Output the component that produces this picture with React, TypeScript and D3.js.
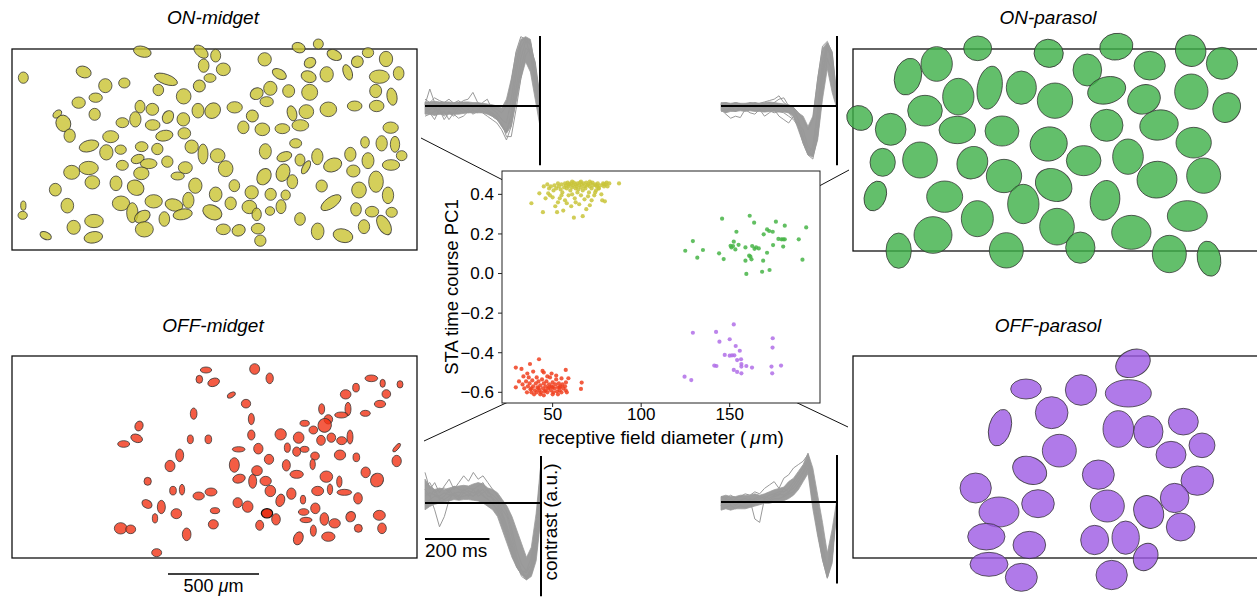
import * as d3 from "d3";
import React from "react";

const W = 1257;
const H = 602;
const FONT = "'Liberation Sans', Arial, Helvetica, sans-serif";

// ---------- scatter: receptive field diameter (um) vs STA time course PC1 ----------
type Pt = [number, number];

const onMidgetPts: Pt[] = [
  [38, 0.355], [42.5, 0.405], [44.5, 0.31], [47, 0.45], [47.5, 0.405], [48, 0.43], [49, 0.44], [50, 0.385],
  [50.5, 0.42], [51, 0.445], [52, 0.43], [52.5, 0.31], [53, 0.455], [53.5, 0.44], [54, 0.38], [54.5, 0.425],
  [55, 0.45], [55.5, 0.41], [56, 0.318], [56.5, 0.435], [57, 0.455], [57.5, 0.445], [58, 0.355], [58, 0.43],
  [58.5, 0.46], [59, 0.44], [59.5, 0.45], [60, 0.42], [60.5, 0.34], [60.5, 0.455], [61, 0.435], [61.5, 0.445],
  [62, 0.282], [62, 0.46], [62.5, 0.38], [63, 0.43], [63, 0.45], [63.5, 0.44], [64, 0.455], [64.5, 0.425],
  [65, 0.35], [65, 0.445], [65.5, 0.46], [66, 0.435], [66.5, 0.45], [67, 0.29], [67, 0.42], [67.5, 0.455],
  [68, 0.44], [68.5, 0.43], [69, 0.325], [69, 0.46], [69.5, 0.445], [70, 0.45], [70.5, 0.41], [71, 0.345],
  [71, 0.44], [71.5, 0.455], [72, 0.43], [72.5, 0.46], [73, 0.445], [73.5, 0.395], [74, 0.45], [74.5, 0.42],
  [75, 0.44], [75.5, 0.455], [76, 0.43], [77, 0.445], [77.5, 0.4], [78, 0.37], [78.5, 0.455], [79, 0.44],
  [79.5, 0.365], [80, 0.45], [80.5, 0.46], [81, 0.44], [82, 0.455], [87.5, 0.455], [46, 0.38], [48.5, 0.395],
  [51.5, 0.34], [53, 0.36], [55, 0.395], [57, 0.37], [59, 0.395], [61, 0.4], [63, 0.36], [64, 0.41],
  [66, 0.395], [68, 0.375], [70, 0.39], [72, 0.37], [74, 0.41], [76, 0.43], [45, 0.44], [59, 0.45],
  [61, 0.465], [66, 0.465], [71, 0.465], [75, 0.445], [79, 0.45],
];

const onParasolPts: Pt[] = [
  [124.9, 0.115], [129.2, 0.164], [134.9, 0.119], [131.7, 0.08], [145.7, 0.277], [161.3, 0.292], [163.8, 0.257],
  [176.1, 0.262], [181.1, 0.242], [193.2, 0.233], [153.8, 0.211], [169.2, 0.198], [171.1, 0.223], [174.3, 0.211],
  [172.3, 0.215], [152.3, 0.161], [151.9, 0.139], [151, 0.132], [153.2, 0.122], [158.9, 0.132], [162.7, 0.139],
  [164.9, 0.132], [166.4, 0.127], [174.5, 0.144], [179.2, 0.173], [181.1, 0.173], [180.2, 0.173], [189, 0.173],
  [180.2, 0.136], [171.1, 0.105], [144, 0.102], [146.6, 0.073], [158.9, 0.065], [161.7, 0.085], [162.3, 0.072],
  [161, 0.09], [168.9, 0.065], [159.4, -0.002], [168.3, 0.009], [172.5, 0.018], [191.1, 0.07], [155, 0.145],
  [150.5, 0.14], [164, 0.125], [177.5, 0.175],
];

const offMidgetPts: Pt[] = [
  [29.2, -0.475], [29.2, -0.575], [32.4, -0.482], [37.2, -0.457], [42.3, -0.433], [35.7, -0.505], [39, -0.495],
  [44.3, -0.492], [45, -0.5], [49.4, -0.505], [57.4, -0.487], [66.4, -0.551], [66, -0.583], [58.9, -0.529],
  [57.4, -0.59], [31, -0.545], [33, -0.56], [34, -0.58], [35, -0.545], [35.5, -0.6], [36, -0.57], [37, -0.555],
  [37.5, -0.585], [38, -0.6], [38.5, -0.54], [39, -0.57], [40, -0.59], [40.5, -0.555], [41, -0.6], [41.5, -0.575],
  [42, -0.545], [42.5, -0.59], [43, -0.565], [43.5, -0.6], [44, -0.535], [44.5, -0.58], [45, -0.555], [45.5, -0.595],
  [46, -0.57], [46.5, -0.545], [47, -0.6], [47.5, -0.58], [48, -0.56], [48.5, -0.525], [49, -0.59], [49.5, -0.57],
  [50, -0.55], [50.5, -0.6], [51, -0.58], [51.5, -0.56], [52, -0.535], [52.5, -0.595], [53, -0.575], [53.5, -0.555],
  [54, -0.59], [54.5, -0.57], [55, -0.6], [55.5, -0.56], [56, -0.58], [57, -0.57], [57.5, -0.55], [58, -0.6],
  [55, -0.53], [52, -0.515], [47, -0.52], [41, -0.525], [36.5, -0.525], [33.5, -0.52], [50, -0.61], [45, -0.615],
  [53, -0.61], [43, -0.61], [39.5, -0.61], [48, -0.575], [46, -0.59], [50, -0.575], [54, -0.575], [42, -0.58],
  [38, -0.58],
];

const offParasolPts: Pt[] = [
  [124.5, -0.521], [128.3, -0.538], [129.2, -0.299], [142.3, -0.295], [144.2, -0.344], [152.3, -0.257],
  [150, -0.332], [153.4, -0.366], [155.7, -0.39], [147.2, -0.411], [151.3, -0.413], [152.6, -0.413], [150, -0.415],
  [154.2, -0.437], [156.4, -0.433], [156.6, -0.457], [156.6, -0.47], [152.3, -0.487], [154.2, -0.497],
  [156.6, -0.504], [159.4, -0.467], [162.6, -0.475], [174.3, -0.327], [174.2, -0.374], [173.6, -0.47],
  [174, -0.504], [179, -0.465], [141.3, -0.465], [142.5, -0.467],
];

const xTicks = [50, 100, 150];
const yTicks = [-0.6, -0.4, -0.2, 0.0, 0.2, 0.4];

// ---------- receptive field mosaics: [cx, cy, rx, ry, angle] in grid units (1/3 px) ----------
type Ell = [number, number, number, number, number];

const onMidgetRFs: Ell[] = [
  [427,65,27,16,15],[603,65,25,15,40],[647,77,15,19,0],[896,53,20,15,20],[955,42,15,15,0],[1003,75,23,15,25],
  [1104,68,17,15,0],[1072,95,18,17,-30],[1158,87,20,23,0],[70,143,15,17,0],[251,126,23,17,20],[794,88,20,20,0],
  [930,98,18,15,-30],[611,107,16,20,0],[670,118,21,19,0],[630,144,18,13,0],[498,148,36,15,20],[373,159,17,15,0],
  [316,167,20,21,0],[475,180,16,17,0],[598,168,18,18,-20],[838,132,23,14,30],[926,140,23,17,20],[980,133,20,23,0],
  [1043,127,13,24,-20],[1138,140,30,20,0],[1196,130,16,20,0],[551,199,22,23,0],[287,203,20,14,0],[236,218,20,17,0],
  [770,191,20,17,-30],[811,175,20,21,0],[866,183,18,19,0],[929,187,24,24,0],[1127,183,18,20,0],[1176,200,15,26,-10],
  [800,215,20,15,0],[172,252,10,15,50],[190,280,22,25,-20],[284,253,17,18,0],[420,230,15,19,0],[457,238,19,18,0],
  [406,268,17,23,0],[367,278,19,15,0],[458,285,22,16,0],[504,261,16,20,30],[550,268,19,20,0],[594,242,18,22,0],
  [638,242,22,25,45],[704,232,23,17,0],[757,258,18,18,-40],[876,250,14,23,-15],[919,245,22,21,0],[985,238,25,22,0],
  [1064,228,22,15,0],[1130,228,22,17,0],[730,292,17,19,0],[787,298,22,19,0],[847,296,22,15,0],[901,286,25,17,0],
  [209,317,17,20,0],[332,320,24,18,0],[493,317,26,16,-10],[553,310,19,17,0],[1172,293,23,17,0],[267,348,30,17,-15],
  [319,367,20,23,0],[362,359,17,14,0],[425,350,19,15,0],[472,357,17,17,0],[575,350,20,20,0],[609,372,15,30,0],
  [653,377,22,21,0],[796,364,18,23,0],[887,340,18,14,0],[1095,337,13,17,0],[1145,340,17,23,0],[1185,343,14,24,0],
  [1205,377,16,15,0],[853,380,23,14,-20],[900,390,15,18,0],[918,412,10,22,30],[952,380,17,24,0],[1051,373,17,21,0],
  [1104,392,18,24,0],[1173,405,26,16,0],[998,405,28,20,-20],[413,387,20,13,-20],[446,401,25,15,0],[367,406,18,15,0],
  [502,395,17,17,0],[556,413,21,18,0],[677,416,22,24,0],[266,414,29,20,0],[215,427,24,21,0],[424,430,23,19,0],
  [533,438,20,12,0],[849,428,20,27,20],[792,440,20,26,30],[1060,423,20,18,0],[1128,455,22,32,0],[277,457,22,20,0],
  [166,479,18,19,0],[348,460,18,22,0],[407,473,26,22,30],[586,467,20,23,0],[703,467,16,18,0],[755,487,20,20,0],
  [812,493,17,18,0],[857,495,14,15,0],[877,455,16,21,0],[965,468,17,18,0],[1077,480,22,24,0],[1164,496,17,25,0],
  [647,493,19,22,0],[202,527,19,22,0],[363,520,26,22,0],[461,514,26,20,0],[397,548,17,30,0],[427,560,25,17,-30],
  [522,525,27,18,15],[565,511,17,24,0],[548,553,29,16,-10],[637,547,30,21,25],[692,520,17,19,0],[748,531,22,20,0],
  [770,553,14,19,0],[810,543,14,13,0],[843,530,15,21,0],[993,518,35,16,-35],[1068,538,16,20,0],[1116,545,20,16,0],
  [1175,547,17,15,0],[70,527,8,14,0],[68,556,14,12,0],[493,567,16,22,0],[900,567,16,19,0],[1152,585,18,32,-30],
  [221,592,20,21,0],[282,573,28,20,0],[433,598,27,23,0],[670,598,21,16,0],[716,601,20,17,-20],[774,596,20,16,0],
  [953,604,19,25,0],[1029,617,30,20,15],[1092,590,17,21,0],[137,617,18,11,25],[280,622,28,17,-10],[781,632,17,17,0],
];

const onParasolRFs: Ell[] = [
  [398,55,42,37,0],[611,70,44,42,20],[814,50,50,40,-10],[1037,62,45,48,-30],[275,102,47,52,0],[189,140,40,56,15],
  [727,120,43,48,0],[914,107,47,43,0],[1131,100,47,48,0],[340,200,47,55,0],[434,173,37,65,10],[529,173,45,50,0],
  [630,212,53,53,0],[785,181,58,40,-15],[897,208,50,43,-25],[1039,185,50,53,0],[1145,233,40,46,30],[44,264,40,36,35],
  [240,242,52,46,0],[137,298,46,48,0],[337,300,55,41,0],[471,303,51,45,0],[611,342,56,51,-15],[785,286,49,48,0],
  [942,285,58,45,-10],[1046,338,53,46,0],[113,397,38,42,0],[225,390,52,54,0],[382,398,45,50,30],[477,438,53,50,0],
  [716,392,52,45,0],[849,380,46,53,0],[936,449,60,55,-10],[1076,437,51,53,0],[91,498,32,46,20],[299,500,54,47,0],
  [626,465,57,47,30],[535,522,47,59,0],[780,511,44,60,10],[397,566,48,54,0],[264,615,57,55,0],[636,590,52,55,0],
  [1027,558,60,46,0],[161,662,38,53,0],[484,661,51,53,0],[706,653,44,47,0],[859,607,59,51,0],[973,672,51,56,0],
  [1092,686,35,53,-10],
];

const offMidgetRFs: Ell[] = [
  [618,60,17,9,0],[764,57,15,16,0],[598,88,10,12,0],[641,97,18,12,-20],[809,85,11,16,0],[694,135,13,7,-30],
  [738,161,14,13,0],[1114,85,19,10,0],[1148,100,8,12,0],[1200,103,9,11,0],[1068,113,10,13,0],[1037,133,16,14,0],
  [1159,132,13,13,0],[1140,162,17,11,0],[965,177,9,16,0],[1044,177,9,20,0],[1024,195,20,9,0],[1096,190,15,9,0],
  [581,191,10,17,0],[754,207,9,17,0],[417,228,12,15,20],[985,208,13,14,0],[974,226,20,21,30],[914,220,14,9,0],
  [940,240,13,12,0],[371,282,18,10,0],[410,265,18,12,20],[571,268,9,13,0],[625,268,10,13,0],[754,255,11,15,0],
  [842,253,17,17,0],[896,263,16,17,0],[963,271,13,15,0],[994,263,13,14,0],[1025,272,15,12,0],[1050,261,9,21,0],
  [716,298,19,8,0],[775,296,14,16,0],[862,293,9,14,0],[890,305,12,14,0],[914,298,13,9,0],[1190,293,16,6,-50],
  [539,316,12,19,0],[510,348,15,17,0],[703,345,15,22,0],[807,328,14,15,0],[945,318,13,12,0],[938,343,8,16,0],
  [1020,315,17,15,0],[1069,322,10,13,0],[1190,333,14,17,0],[771,362,16,15,0],[859,346,12,17,0],[890,373,20,12,0],
  [979,380,19,17,0],[1097,367,14,16,0],[443,394,11,12,0],[717,386,19,13,-15],[758,394,12,21,0],[797,393,17,14,0],
  [1018,395,8,17,0],[1131,390,19,21,30],[519,422,10,13,0],[546,419,8,16,0],[596,438,17,12,0],[633,426,18,12,0],
  [811,423,16,17,0],[874,431,14,17,0],[953,423,18,14,0],[990,418,8,16,0],[1033,427,22,9,0],[841,451,13,19,15],
  [909,449,8,13,0],[1074,445,13,17,0],[441,462,16,12,30],[484,471,12,20,0],[713,458,14,15,0],[743,470,16,17,0],
  [946,475,14,16,0],[645,482,14,9,0],[529,491,16,15,0],[828,508,13,17,0],[911,486,16,10,0],[973,507,13,19,0],
  [1052,500,14,16,30],[1138,496,18,15,0],[465,505,8,14,0],[918,510,18,8,0],[1004,520,17,14,0],[640,523,15,14,0],
  [362,535,19,17,0],[392,538,15,13,0],[779,526,12,15,0],[940,542,9,17,0],[1075,535,12,12,0],[1146,535,13,16,0],
  [560,553,13,19,0],[895,565,14,20,20],[985,560,20,14,0],[470,608,15,12,0],
];
const offMidgetSelected: Ell = [801, 490, 17, 14, 0];

const offParasolRFs: Ell[] = [
  [864,70,54,40,-25],[543,147,46,30,0],[708,150,47,46,0],[850,160,69,41,0],[620,218,49,48,0],[465,263,33,56,15],
  [820,267,46,55,0],[910,275,44,48,0],[1015,245,45,40,0],[1071,316,39,37,0],[978,344,45,40,0],[643,332,51,49,0],
  [554,391,53,40,25],[760,404,48,44,0],[1057,422,49,44,0],[392,444,47,45,0],[989,474,43,44,0],[462,516,60,45,0],
  [579,491,49,42,0],[787,498,51,48,0],[911,516,43,51,-30],[1007,561,43,42,0],[424,590,56,40,0],[553,615,49,41,0],
  [749,600,42,44,0],[842,593,41,50,0],[902,651,35,43,30],[432,673,57,36,0],[529,712,48,42,0],[800,705,47,44,0],
];

// ---------- STA time courses (contrast, a.u.) ----------
const TC_TIMES = [-360,-345,-330,-315,-300,-285,-270,-255,-240,-225,-210,-195,-180,-165,-150,-135,-120,-105,-90,-75,-60,-45,-30,-15,0];

const onMidgetTcLo = [-0.12,-0.12,-0.14,-0.12,-0.13,-0.12,-0.12,-0.12,-0.11,-0.1,-0.1,-0.1,-0.1,-0.12,-0.15,-0.2,-0.3,-0.4,-0.3,0.05,0.4,0.65,0.5,0.1,-0.3];
const onMidgetTcHi = [0.06,0.06,0.07,0.06,0.06,0.06,0.05,0.06,0.06,0.06,0.05,0.05,0.04,0.03,0.02,0.0,-0.03,0.1,0.4,0.78,0.98,1.02,0.98,0.55,0.13];
const onMidgetTc = [
  [0.02,0.25,0.05,-0.02,0.0,0.05,-0.03,0.02,0.08,0.1,0.2,0.05,0.0,-0.05,-0.1,-0.15,-0.3,-0.4,-0.1,0.45,0.85,1.0,0.9,0.45,0.0],
  [-0.05,-0.1,-0.2,-0.05,-0.2,-0.1,-0.15,-0.05,-0.1,-0.05,-0.12,-0.08,-0.1,-0.15,-0.2,-0.25,-0.35,-0.5,-0.3,0.1,0.55,0.85,0.8,0.4,-0.3],
  [0.1,0.05,0.12,0.08,0.05,0.1,0.04,0.08,0.02,0.05,0.0,0.03,0.02,0.0,-0.02,-0.05,-0.1,0.0,0.35,0.8,1.02,0.98,0.75,0.3,-0.2],
  [-0.1,-0.05,0.0,-0.12,-0.08,-0.2,-0.1,0.0,-0.05,-0.1,-0.06,-0.1,0.05,0.1,-0.05,-0.1,-0.2,-0.25,0.1,0.6,0.95,1.0,0.95,0.6,0.1],
  [0.0,0.02,-0.05,0.05,0.02,0.0,-0.05,-0.02,0.0,0.02,-0.02,0.0,-0.03,-0.08,-0.12,-0.18,-0.28,-0.35,-0.2,0.25,0.7,0.95,0.92,0.5,-0.05],
  [-0.15,-0.12,-0.08,-0.05,-0.15,-0.08,-0.12,-0.18,-0.15,-0.08,-0.1,-0.05,-0.08,-0.1,-0.15,-0.2,-0.25,-0.45,-0.45,-0.05,0.4,0.75,0.85,0.65,0.13],
];

const onParasolTcLo = [-0.07,-0.1,-0.08,-0.08,-0.07,-0.08,-0.07,-0.08,-0.08,-0.09,-0.08,-0.08,-0.09,-0.09,-0.1,-0.15,-0.35,-0.55,-0.72,-0.75,-0.5,0.1,0.55,0.2,-0.05];
const onParasolTcHi = [0.05,0.05,0.04,0.05,0.04,0.04,0.05,0.05,0.04,0.05,0.06,0.05,0.04,0.03,0.02,-0.02,-0.1,-0.15,-0.3,-0.15,0.4,0.85,0.93,0.8,0.13];
const onParasolTc = [
  [0.02,-0.1,0.0,-0.08,0.0,0.03,-0.02,0.05,0.02,-0.03,0.0,0.05,0.1,0.12,0.0,-0.05,-0.2,-0.45,-0.7,-0.6,-0.1,0.5,0.9,0.65,0.05],
  [-0.05,-0.12,-0.18,-0.15,-0.17,-0.05,-0.1,-0.12,-0.05,-0.15,-0.1,-0.05,-0.15,-0.2,-0.25,-0.15,-0.3,-0.55,-0.72,-0.78,-0.45,0.2,0.7,0.5,0.0],
  [0.03,0.05,0.02,0.05,0.03,0.0,0.05,0.02,0.04,0.06,0.08,0.1,0.15,0.05,0.0,-0.02,-0.1,-0.2,-0.35,-0.2,0.4,0.88,0.95,0.78,0.12],
  [-0.08,-0.06,-0.05,-0.08,-0.04,-0.06,-0.05,-0.07,-0.06,-0.08,-0.07,-0.1,-0.08,-0.1,-0.15,-0.2,-0.3,-0.5,-0.68,-0.72,-0.3,0.4,0.85,0.7,0.08],
  [0.0,0.02,-0.02,0.0,0.01,-0.03,0.0,-0.02,0.0,0.02,-0.02,0.0,0.02,-0.05,-0.1,-0.18,-0.25,-0.35,-0.6,-0.65,-0.05,0.65,0.92,0.6,0.03],
];

const offMidgetTcLo = [-0.1,-0.05,-0.02,0.0,0.02,0.03,0.05,0.04,0.05,0.05,0.04,0.03,0.0,-0.05,-0.1,-0.2,-0.4,-0.6,-0.8,-0.95,-1.05,-1.13,-1.08,-0.85,-0.2];
const offMidgetTcHi = [0.35,0.25,0.2,0.22,0.2,0.22,0.24,0.25,0.26,0.25,0.28,0.3,0.28,0.22,0.2,0.15,0.05,-0.05,-0.2,-0.4,-0.6,-0.8,-0.65,-0.15,0.6];
const offMidgetTc = [
  [0.2,0.1,-0.1,-0.35,-0.2,0.05,0.15,0.1,0.2,0.15,0.1,0.2,0.12,0.05,0.0,-0.1,-0.3,-0.5,-0.75,-0.95,-1.05,-1.1,-0.95,-0.5,0.2],
  [0.45,0.2,0.3,0.15,0.25,0.35,0.2,0.3,0.4,0.32,0.45,0.35,0.4,0.3,0.2,0.1,0.0,-0.15,-0.4,-0.7,-0.9,-1.0,-0.8,-0.3,0.5],
  [0.1,0.15,0.12,0.1,0.15,0.12,0.14,0.16,0.15,0.18,0.15,0.17,0.1,0.05,-0.02,-0.12,-0.25,-0.45,-0.7,-0.92,-1.08,-1.13,-1.0,-0.6,0.0],
  [0.0,0.05,0.1,0.08,0.05,0.1,0.12,0.08,0.1,0.12,0.1,0.15,0.2,0.1,0.08,0.0,-0.15,-0.35,-0.6,-0.85,-1.0,-1.02,-0.9,-0.4,0.6],
  [0.25,0.3,0.15,0.2,0.22,0.15,0.25,0.2,0.18,0.22,0.2,0.25,0.3,0.15,0.12,0.05,-0.1,-0.2,-0.5,-0.8,-1.0,-1.1,-1.05,-0.75,-0.15],
  [0.15,0.1,0.2,0.05,0.1,0.2,0.1,0.05,0.15,0.1,0.2,0.1,0.15,0.2,0.05,-0.05,-0.2,-0.4,-0.65,-0.9,-1.05,-1.08,-0.98,-0.65,0.3],
];

const offParasolTcLo = [-0.12,-0.1,-0.12,-0.1,-0.1,-0.1,-0.08,-0.06,-0.04,-0.02,-0.02,0.0,0.0,0.02,0.05,0.1,0.18,0.3,0.42,-0.1,-0.5,-0.85,-1.12,-0.9,-0.07];
const offParasolTcHi = [0.08,0.1,0.08,0.08,0.1,0.1,0.1,0.12,0.1,0.12,0.15,0.18,0.2,0.22,0.3,0.35,0.45,0.55,0.72,0.5,0.1,-0.3,-0.75,-0.4,0.05];
const offParasolTc = [
  [0.0,0.02,-0.02,0.05,0.02,0.0,0.03,-0.25,-0.3,0.05,0.02,0.08,0.1,0.2,0.15,0.25,0.35,0.45,0.6,0.2,-0.3,-0.75,-1.1,-0.7,0.0],
  [0.08,0.05,0.1,0.06,0.08,0.12,0.1,0.15,0.12,0.2,0.25,0.3,0.2,0.35,0.4,0.5,0.55,0.6,0.7,0.4,-0.1,-0.6,-1.0,-0.8,-0.05],
  [-0.1,-0.08,-0.05,-0.1,-0.05,-0.08,-0.05,-0.02,0.0,0.02,0.0,0.05,0.05,0.08,0.12,0.15,0.25,0.35,0.5,0.0,-0.45,-0.85,-1.12,-0.85,0.05],
  [0.02,0.0,0.05,0.0,0.03,0.05,0.02,0.05,0.08,0.05,0.1,0.12,0.15,0.15,0.2,0.3,0.4,0.5,0.62,0.3,-0.25,-0.7,-0.95,-0.55,0.0],
  [-0.05,0.05,0.0,-0.05,0.0,-0.02,0.05,0.02,0.05,0.08,0.05,0.1,0.12,0.1,0.15,0.2,0.3,0.42,0.55,0.1,-0.35,-0.8,-1.05,-0.65,-0.03],
];

// ---------- colours ----------
const COL = {
  onMidget: { dot: "#c9c43a", fill: "#c9c331" },
  onParasol: { dot: "#46b446", fill: "#3caf46" },
  offMidget: { dot: "#f0401f", fill: "#f13315" },
  offParasol: { dot: "#b06ee8", fill: "#9c59e3" },
};

// scatter frame
const sx = d3.scaleLinear().domain([21.4, 201]).range([502, 820]);
const sy = d3.scaleLinear().domain([-0.654, 0.518]).range([403, 171]);

const mosaics = [
  { title: "ON-midget", cells: onMidgetRFs, fill: COL.onMidget.fill, crop: [0, 30], box: [12, 49, 405, 201], tx: 213, ty: 24 },
  { title: "ON-parasol", cells: onParasolRFs, fill: COL.onParasol.fill, crop: [845, 30], box: [853, 49, 405, 202], tx: 1048, ty: 24 },
  { title: "OFF-midget", cells: offMidgetRFs, fill: COL.offMidget.fill, crop: [0, 350], box: [12, 356, 405, 202], tx: 213, ty: 332 },
  { title: "OFF-parasol", cells: offParasolRFs, fill: COL.offParasol.fill, crop: [845, 340], box: [853, 356, 405, 202], tx: 1048, ty: 332 },
];

const timeCourses = [
  { lo: onMidgetTcLo, hi: onMidgetTcHi, traces: onMidgetTc, x0: 425, x1: 540, zero: 106, v: [-0.87, 1.03] },
  { lo: onParasolTcLo, hi: onParasolTcHi, traces: onParasolTc, x0: 721, x1: 837, zero: 106, v: [-0.87, 1.03] },
  { lo: offMidgetTcLo, hi: offMidgetTcHi, traces: offMidgetTc, x0: 425, x1: 541, zero: 503, v: [-1.37, 0.69] },
  { lo: offParasolTcLo, hi: offParasolTcHi, traces: offParasolTc, x0: 721, x1: 837, zero: 502, v: [-1.2, 0.69] },
];

// connectors: anchor in scatter data coords -> mosaic edge point
const connectors = [
  { from: [36.1, 0.407], to: [421, 138] },
  { from: [170, 0.295], to: [849, 170] },
  { from: [33.3, -0.614], to: [424, 441] },
  { from: [164.3, -0.552], to: [848, 427] },
];

function Mosaic({ m }: { m: (typeof mosaics)[number] }) {
  const x = d3.scaleLinear().domain([0, 3]).range([m.crop[0], m.crop[0] + 1]);
  const y = d3.scaleLinear().domain([0, 3]).range([m.crop[1], m.crop[1] + 1]);
  const r = (v: number) => x(v) - x(0);
  const [bx, by, bw, bh] = m.box;
  return (
    <g>
      <rect x={bx} y={by} width={bw} height={bh} fill="none" stroke="#111" strokeWidth={1.3} />
      {m.cells.map((c, i) => (
        <ellipse
          key={i}
          transform={`translate(${x(c[0])},${y(c[1])}) rotate(${c[4]})`}
          rx={r(c[2])}
          ry={r(c[3])}
          fill={m.fill}
          fillOpacity={0.8}
          stroke="#333"
          strokeOpacity={0.85}
          strokeWidth={0.9}
        />
      ))}
      <text x={m.tx} y={m.ty} textAnchor="middle" fontSize={19} fontStyle="italic" fontFamily={FONT}>
        {m.title}
      </text>
    </g>
  );
}

function TimeCourse({ p }: { p: (typeof timeCourses)[number] }) {
  const x = d3.scaleLinear().domain([-360, 0]).range([p.x0, p.x1]);
  const y = d3.scaleLinear().domain([-1, 1]).range([p.zero + 68, p.zero - 68]);
  const area = d3
    .area<number>()
    .x((_, i) => x(TC_TIMES[i]))
    .y0((_, i) => y(p.lo[i]))
    .y1((_, i) => y(p.hi[i]));
  const line = d3
    .line<number>()
    .x((_, i) => x(TC_TIMES[i]))
    .y((v) => y(v));
  return (
    <g>
      <path d={area(p.lo) || ""} fill="#9c9c9c" stroke="#9c9c9c" strokeWidth={0.8} />
      {p.traces.map((tr, i) => (
        <path key={i} d={line(tr) || ""} fill="none" stroke="#999" strokeWidth={1} />
      ))}
      <line x1={x(-360)} x2={x(0)} y1={y(0)} y2={y(0)} stroke="#000" strokeWidth={2} />
      <line x1={x(0)} x2={x(0)} y1={y(p.v[1])} y2={y(p.v[0])} stroke="#000" strokeWidth={2} />
    </g>
  );
}

function Scatter() {
  const groups: [Pt[], string][] = [
    [onMidgetPts, COL.onMidget.dot],
    [onParasolPts, COL.onParasol.dot],
    [offMidgetPts, COL.offMidget.dot],
    [offParasolPts, COL.offParasol.dot],
  ];
  const [x0, x1] = sx.range();
  const [y0, y1] = sy.range();
  const fmt = d3.format(".1f");
  return (
    <g fontFamily={FONT}>
      <rect x={x0} y={y1} width={x1 - x0} height={y0 - y1} fill="#fff" stroke="#222" strokeWidth={1} />
      {groups.map(([pts, c], gi) =>
        pts.map((d, i) => <circle key={`${gi}-${i}`} cx={sx(d[0])} cy={sy(d[1])} r={2.1} fill={c} fillOpacity={0.85} />)
      )}
      {xTicks.map((t) => (
        <g key={t}>
          <line x1={sx(t)} x2={sx(t)} y1={y0} y2={y0 + 4} stroke="#222" />
          <text x={sx(t)} y={y0 + 17} textAnchor="middle" fontSize={17}>
            {t}
          </text>
        </g>
      ))}
      {yTicks.map((t) => (
        <g key={t}>
          <line x1={x0 - 4} x2={x0} y1={sy(t)} y2={sy(t)} stroke="#222" />
          <text x={x0 - 8} y={sy(t)} dy="0.35em" textAnchor="end" fontSize={17}>
            {fmt(t)}
          </text>
        </g>
      ))}
      <text x={(x0 + x1) / 2} y={444} textAnchor="middle" fontSize={19}>
        receptive field diameter (<tspan dx={4} fontStyle="italic">μ</tspan>
        <tspan dx={1}>m)</tspan>
      </text>
      <text transform={`translate(458,${(y0 + y1) / 2}) rotate(-90)`} textAnchor="middle" fontSize={18.5}>
        STA time course PC1
      </text>
    </g>
  );
}

export default function App() {
  // grid scale reused for the 500 um scale bar (273 grid units = 500 um)
  const gx = d3.scaleLinear().domain([0, 3]).range([0, 1]);
  const barUm = 500;
  const gridPerUm = 273 / 500;
  const barX0 = 168;
  const barLen = gx(barUm * gridPerUm);
  const tcBL = timeCourses[2];
  const tx = d3.scaleLinear().domain([-360, 0]).range([tcBL.x0, tcBL.x1]);
  const sel = offMidgetSelected;
  return (
    <svg
      width={W}
      height={H}
      viewBox={`0 0 ${W} ${H}`}
      style={{ position: "absolute", left: 0, top: 0, background: "#fff" }}
      fontFamily={FONT}
    >
      <rect width={W} height={H} fill="#fff" />
      {connectors.map((c, i) => (
        <line key={i} x1={sx(c.from[0])} y1={sy(c.from[1])} x2={c.to[0]} y2={c.to[1]} stroke="#111" strokeWidth={1} />
      ))}
      {mosaics.map((m) => (
        <Mosaic key={m.title} m={m} />
      ))}
      <ellipse
        transform={`translate(${gx(sel[0])},${350 + gx(sel[1])}) rotate(${sel[4]})`}
        rx={gx(sel[2])}
        ry={gx(sel[3])}
        fill="#e8341a"
        stroke="#111"
        strokeWidth={1.2}
      />
      {timeCourses.map((p, i) => (
        <TimeCourse key={i} p={p} />
      ))}
      <Scatter />
      {/* 200 ms scale bar */}
      <line x1={tx(-360)} x2={tx(-160)} y1={539} y2={539} stroke="#000" strokeWidth={2} />
      <text x={tx(-360)} y={557} fontSize={19}>
        200 ms
      </text>
      <text transform="translate(557,522) rotate(-90)" textAnchor="middle" fontSize={19}>
        contrast (a.u.)
      </text>
      {/* 500 um scale bar */}
      <line x1={barX0} x2={barX0 + barLen} y1={574} y2={574} stroke="#000" strokeWidth={1.5} />
      <text x={barX0 + barLen / 2} y={592} textAnchor="middle" fontSize={18}>
        500 <tspan fontStyle="italic">μ</tspan>m
      </text>
    </svg>
  );
}
